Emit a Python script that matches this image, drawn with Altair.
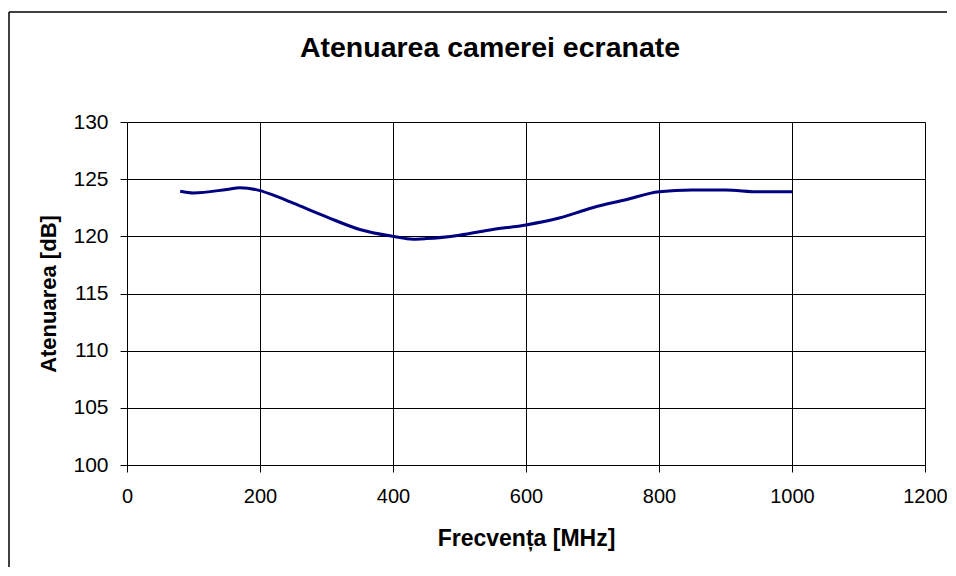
import altair as alt
import pandas as pd

freq = [80, 100, 150, 170, 200, 220, 250, 300, 350, 400, 430, 450, 500, 550, 600, 650, 700, 750, 800, 850, 900, 950, 1000]
aten = [123.95, 123.8, 124.1, 124.25, 124.0, 123.6, 122.9, 121.7, 120.6, 120.0, 119.75, 119.8, 120.1, 120.6, 121.0, 121.6, 122.5, 123.2, 123.9, 124.05, 124.05, 123.9, 123.9]

x_ticks = [0, 200, 400, 600, 800, 1000, 1200]
y_ticks = [100, 105, 110, 115, 120, 125, 130]
title_text = "Atenuarea camerei ecranate"

df = pd.DataFrame({"f": freq, "a": aten})
FONT = "Liberation Sans"
W, H = 798, 343

line = alt.Chart(df).mark_line(color="#000080", strokeWidth=3, interpolate="monotone").encode(
    x=alt.X("f:Q", scale=alt.Scale(domain=[0, 1200], nice=False),
            axis=alt.Axis(values=x_ticks, format="d", title="Frecvența [MHz]", grid=True,
                          gridColor="black", gridOpacity=1, gridWidth=1,
                          tickColor="black", tickSize=7, domain=False,
                          labelFlush=False, labelOverlap=False, labelBound=False,
                          labelFontSize=20, labelColor="black", labelPadding=14,
                          titleFontSize=23, titleFontWeight="bold", titleColor="black",
                          titlePadding=21, labelFont=FONT, titleFont=FONT)),
    y=alt.Y("a:Q", scale=alt.Scale(domain=[100, 130], nice=False, zero=False),
            axis=alt.Axis(values=y_ticks, format="d", title="Atenuarea [dB]", grid=True,
                          gridColor="black", gridOpacity=1, gridWidth=1,
                          tickColor="black", tickSize=7, domain=False,
                          labelFlush=False, labelOverlap=False, labelBound=False,
                          labelFontSize=21, labelColor="black", labelPadding=12,
                          titleFontSize=22, titleFontWeight="bold", titleColor="black",
                          titlePadding=12, labelFont=FONT, titleFont=FONT)),
)

edge = pd.DataFrame({"k": [0]})
left_edge = alt.Chart(edge).mark_rule(color="black", strokeWidth=1.5, clip=False).encode(
    x=alt.value(-118), y=alt.value(-110), y2=alt.value(H + 300))
top_edge = alt.Chart(edge).mark_rule(color="black", strokeWidth=1.5, clip=False).encode(
    x=alt.value(-118), x2=alt.value(W + 200), y=alt.value(-110))

title = alt.Chart(pd.DataFrame({"t": [title_text]})).mark_text(
    font=FONT, fontSize=28.5, fontWeight="bold", color="black",
    align="center", baseline="alphabetic", clip=False
).encode(text="t:N", x=alt.value(363), y=alt.value(-65))

chart = alt.layer(left_edge, top_edge, line, title).properties(
    width=W, height=H,
    autosize=alt.AutoSizeParams(type="none"),
    padding={"left": 119, "top": 114, "right": 22, "bottom": 102},
).configure_view(stroke="black", strokeWidth=1).configure(background="white")

chart.save("out.html", embed_options={"renderer": "svg", "actions": False})
